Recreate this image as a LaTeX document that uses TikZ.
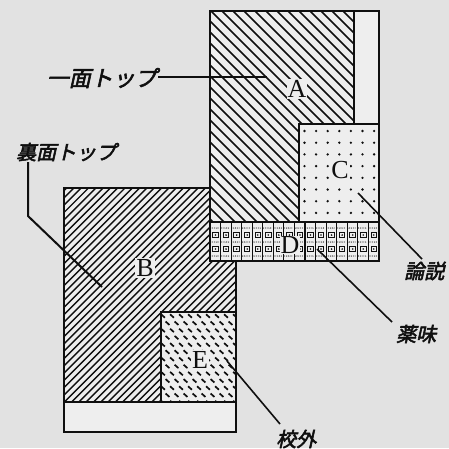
\documentclass[tikz,border=0pt]{standalone}
\usepackage{fontspec}
\setmainfont{Liberation Serif}
\newfontfamily\jp{Noto Sans CJK JP}[FakeSlant=0.22,FakeBold=2.6]
\definecolor{paper}{RGB}{226,226,226}
\definecolor{boxbg}{RGB}{238,238,238}
\definecolor{ink}{RGB}{15,15,15}
\begin{document}
\begin{tikzpicture}[x=1pt,y=-1pt,
  outline/.style={draw=ink,line width=2.2pt},
  inner/.style={draw=ink,line width=1.8pt},
  hatchA/.style={draw=ink,line width=1.6pt},
  hatchB/.style={draw=ink,line width=1.4pt},
  leader/.style={draw=ink,line width=1.6pt},
  letter/.style={fill=boxbg,inner sep=1pt,text=ink,font=\fontsize{26}{26}\selectfont},
  jlabel/.style={inner sep=0pt,text=ink,font=\jp\fontsize{20}{20}\selectfont}]
\useasboundingbox (0,0) rectangle (449,448);
\fill[paper] (0,0) rectangle (449,448);
% box backgrounds
\fill[boxbg] (210,11) rectangle (379,261);
\fill[boxbg] (64,188) rectangle (236,432);
% A hatching
\begin{scope}
\clip (210,11) -- (354,11) -- (354,124) -- (299,124) -- (299,222) -- (210,222) -- cycle;
\foreach \c in {-460,-449,...,460} \draw[hatchA] (\c,0) -- ++(460,460);
\end{scope}
% B hatching
\begin{scope}
\clip (64,188) -- (210,188) -- (210,261) -- (236,261) -- (236,312) -- (161,312) -- (161,402) -- (64,402) -- cycle;
\foreach \c in {240,247.3,...,660} \draw[hatchB] (\c,0) -- ++(-460,460);
\end{scope}
% C dots
\foreach \i in {0,...,6} \foreach \j in {0,...,7}
  \fill[ink] (304.5+\i*11.6,131+\j*11.7) circle (1.3);
% D grid
\begin{scope}
\clip (210,222) rectangle (379,261);
\foreach \k in {1,...,15} \draw[ink,line width=1.1pt] (210+\k*10.55,222) -- (210+\k*10.55,261);
\foreach \k in {0,...,15} {
  \foreach \yy in {235,249} {
    \draw[ink,line width=1pt] (212.8+\k*10.55,\yy-2.8) rectangle (218.3+\k*10.55,\yy+2.8);
    \fill[ink] (215.55+\k*10.55,\yy) circle (0.9);
  }
  \foreach \yy in {228,242,256}
    \foreach \t in {0,1.8,...,9}
      \fill[ink] (210.8+\k*10.55+\t,\yy) circle (0.55);
}
\end{scope}
% E dashes
\begin{scope}
\clip (161,312) rectangle (236,402);
\foreach \j in {0,...,12} {
  \pgfmathsetmacro{\off}{mod(\j,2)*4.5}
  \foreach \i in {0,...,8}
    \draw[ink,line width=1.7pt] (163+\off+\i*9-1.9,316+\j*7.2-1.7) -- ++(3.8,3.4);
}
\end{scope}
% outlines
\draw[outline] (210,11) rectangle (379,261);
\draw[inner] (354,11) -- (354,124);
\draw[inner] (379,124) -- (299,124) -- (299,222);
\draw[inner] (210,222) -- (379,222);
\draw[outline] (210,188) -- (64,188) -- (64,432) -- (236,432) -- (236,261);
\draw[inner] (64,402) -- (236,402);
\draw[inner] (161,402) -- (161,312) -- (236,312);
% letters
\node[letter] (A) at (297,89) {A};
\node[letter] (B) at (145,268) {B};
\node[letter] (C) at (340,170) {C};
\node[letter,inner sep=0.5pt] (D) at (290,245) {D};
\node[letter] (E) at (200,360) {E};
% labels
\node[jlabel,anchor=east,font=\jp\fontsize{22}{22}\selectfont] (ichimen) at (157,78) {一面トップ};
\node[jlabel,anchor=west] (urame) at (16,152) {裏面トップ};
\node[jlabel,anchor=west] (ronsetsu) at (404,271) {論説};
\node[jlabel,anchor=west] (yakumi) at (396,334) {薬味};
\node[jlabel,anchor=west] (kougai) at (276,439) {校外};
% leader ends
\coordinate (a1) at (267,77);
\coordinate (u0) at (28,162);
\coordinate (u1) at (28,216);
\coordinate (u2) at (102,287);
\coordinate (c1) at (358,193);
\coordinate (r1) at (422,259);
\coordinate (d1) at (317,249);
\coordinate (y1) at (392,322);
\coordinate (e1) at (227,361);
\coordinate (k1) at (280,424);
\draw[leader] (ichimen.east) ++(1,-1) -- (a1);
\draw[leader,line width=2pt] (u0) -- (u1) -- (u2);
\draw[leader] (c1) -- (r1);
\draw[leader] (d1) -- (y1);
\draw[leader] (e1) -- (k1);
\end{tikzpicture}
\end{document}
